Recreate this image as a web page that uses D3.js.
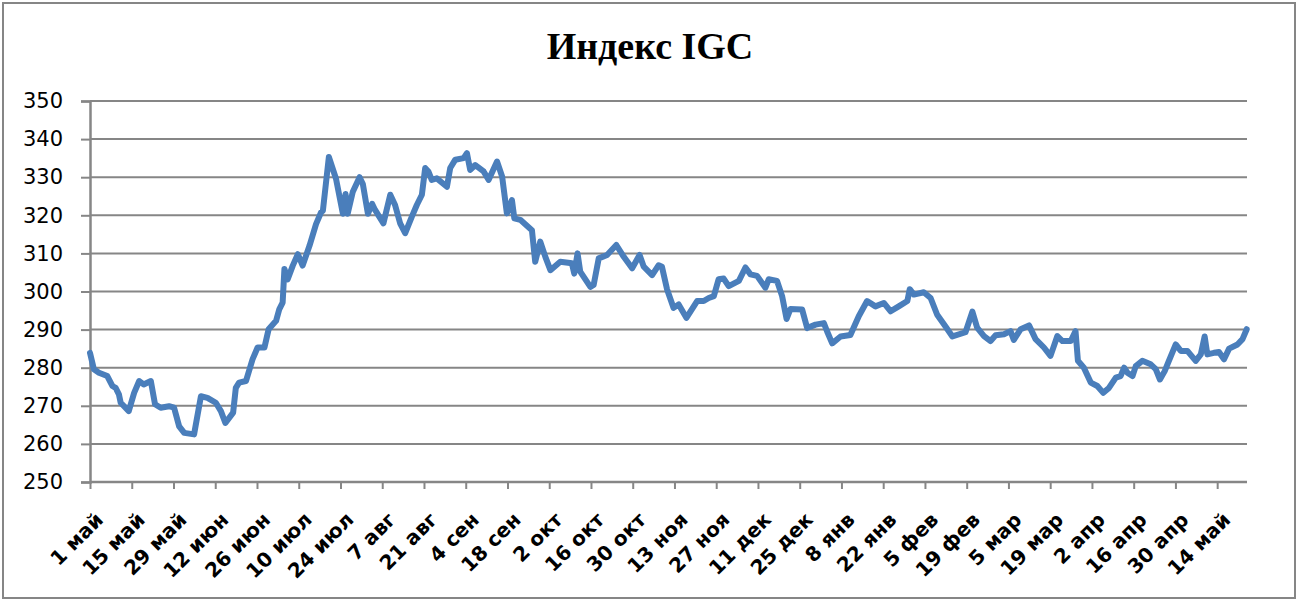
<!DOCTYPE html>
<html><head><meta charset="utf-8">
<script src="https://cdn.jsdelivr.net/npm/d3@7"></script>
<style>body{margin:0;background:#fff}svg{display:block}</style>
</head><body>
<svg id="chart" width="1300" height="606"></svg>
<script>
const chartTitle = "Индекс IGC";
// day offsets from 1 May
const dayOffsets = [0,1.3,3,5.8,7.5,8.6,9.7,10.3,13,14.8,16.5,18,20.4,21.8,23.7,26.5,28.2,29.9,31.6,34.9,37.2,39.4,42.2,43.9,45.4,48,48.9,50,52.3,54.5,56.2,58.5,59.9,62.4,63.5,64.6,65.2,66.3,68,69.7,71.3,73.6,75.8,77.5,78.1,80.1,82.5,84.8,85.7,86.4,88.1,90.4,91.5,93.2,94.6,95.6,98.4,100.7,102.3,104,105.7,107.9,109.6,111.3,112.4,113.5,114.6,116.3,119.7,120.8,122.5,125.3,126.4,127.5,129.2,132,133.7,136.5,138.2,139.8,141.5,142.3,144.3,148.2,149.3,151,152.7,154.4,157.7,161.6,162.4,163.5,164.4,167.8,168.9,170.6,173.4,176.5,179,181.8,184.3,185.7,188.5,190.7,191.8,193.5,195.7,197.4,200,203.6,205.8,207.5,209.2,210.8,212.5,214.2,217.6,219.8,221.5,223.7,226.5,227.6,230.4,232.1,233.6,234.9,238.8,240.5,243.3,246.1,247.2,248.9,251.7,255,257.8,260.6,263.4,266.2,268.5,271.2,274.1,274.9,276.3,279.6,281.9,284.1,286.9,289.2,293.6,295.9,297.5,299.8,302,303.7,306.5,308.7,309.8,312.1,314.9,317.1,319.9,322.1,324.4,326.1,328.9,330.5,331.3,333.3,335.6,337.8,339.8,341.7,344,345.6,346.8,347.9,349.6,350.7,352.9,355.7,357.4,358.8,360.4,361.8,364.1,365.8,368,370.8,372.5,373.8,374.7,376.9,378.6,380.3,382,384.8,386.5,387.9];
const indexValues = [283.9,279.6,278.7,277.8,275.2,274.7,273,270.8,268.6,273.4,276.5,275.6,276.5,270.4,269.5,269.9,269.5,264.6,262.9,262.5,272.5,272.1,270.8,268.6,265.5,268.2,274.7,276.1,276.5,282.2,285.3,285.3,290.1,292.3,295.4,297.1,305.9,303.2,306.8,309.8,306.8,312,317.7,320.8,321.2,335.3,329.6,320.4,325.6,320.4,326.1,330,328.2,320.4,323,321.4,317.9,325.4,322.7,317.9,315.3,319.6,322.7,325.4,332.4,331.5,329.3,329.7,327.5,332.4,334.6,335,336.3,331.9,333.2,331.5,329.3,334.1,330.2,320.5,324,319.2,318.8,316.1,307.8,313.1,309.1,305.6,307.8,307.4,304.7,310,305.2,301.2,301.7,308.7,309.6,312.2,309.1,306.1,309.6,306.5,304.3,306.9,306.5,300.6,295.7,296.6,293.1,297.5,297.5,298.3,298.8,303.2,303.4,301.4,302.8,306.3,304.5,304.1,301,303.2,302.8,298.8,292.8,295.4,295.3,290.4,291.3,291.7,289.5,286.4,288.2,288.6,293.5,297.5,296.1,297,294.8,296.1,297.5,300.6,299.2,299.8,298.3,293.9,290.8,288.2,289.3,294.7,290.5,288.3,287,288.5,288.8,289.6,287.3,290.1,291.1,287.5,285.3,283.1,288.3,287,287,289.6,281.8,280,276.1,275.2,273.4,274.7,277.4,277.8,280,278.7,277.8,280.4,281.8,280.9,279.6,276.9,279.1,281.8,286.1,284.4,284.4,281.8,283.5,288.2,283.5,283.9,284.1,282.2,285,286.1,287.5,290.1];
const tickLabels = ["1 май","15 май","29 май","12 июн","26 июн","10 июл","24 июл","7 авг","21 авг","4 сен","18 сен","2 окт","16 окт","30 окт","13 ноя","27 ноя","11 дек","25 дек","8 янв","22 янв","5 фев","19 фев","5 мар","19 мар","2 апр","16 апр","30 апр","14 май"];
const yTicks = [250,260,270,280,290,300,310,320,330,340,350];

const svg = d3.select("#chart");
const mLeft = 90, mRight = 1247, mTop = 101, mBottom = 482;
const x = d3.scaleLinear().domain([0, 388]).range([mLeft, mRight]);
const y = d3.scaleLinear().domain([250, 350]).range([mBottom, mTop]);
const gray = "#868686";

svg.append("rect").attr("x", 3).attr("y", 3).attr("width", 1292).attr("height", 595)
  .attr("fill", "#fff").attr("stroke", gray).attr("stroke-width", 2);

svg.append("text").attr("x", 650).attr("y", 59).attr("text-anchor", "middle")
  .attr("font-family", "Liberation Serif").attr("font-weight", "bold").attr("font-size", 38)
  .text(chartTitle);

// gridlines
svg.append("g").selectAll("line").data(yTicks).join("line")
  .attr("x1", mLeft).attr("x2", mRight).attr("y1", d => y(d)).attr("y2", d => y(d))
  .attr("stroke", gray).attr("stroke-width", 2);

// y axis
const yAxis = svg.append("g").attr("transform", `translate(${mLeft},0)`)
  .call(d3.axisLeft(y).tickValues(yTicks).tickSize(9).tickPadding(18).tickFormat(d3.format("d")));
yAxis.select(".domain").attr("stroke", gray).attr("stroke-width", 2.5);
yAxis.selectAll(".tick line").attr("stroke", gray).attr("stroke-width", 2);
yAxis.selectAll("text").attr("font-family", "DejaVu Sans").attr("font-size", 21).attr("fill", "#000");

// x axis
const tickVals = tickLabels.map((d, i) => i * 14);
const xAxis = svg.append("g").attr("transform", `translate(0,${mBottom})`)
  .call(d3.axisBottom(x).tickValues(tickVals).tickSize(7).tickFormat((d, i) => tickLabels[i]));
xAxis.select(".domain").attr("stroke", gray).attr("stroke-width", 2.5).attr("d", `M${mLeft},0H${mRight}`);
xAxis.selectAll(".tick line").attr("stroke", gray).attr("stroke-width", 2);
xAxis.selectAll("text")
  .attr("font-family", "DejaVu Sans").attr("font-weight", "bold").attr("font-size", 20).attr("fill", "#000")
  .attr("text-anchor", "end").attr("dy", null).attr("y", 0)
  .attr("transform", "translate(14,39) rotate(-45)");

// line
const pts = dayOffsets.map((d, i) => [d, indexValues[i]]);
svg.append("path").datum(pts)
  .attr("fill", "none").attr("stroke", "#4a7ebb").attr("stroke-width", 6)
  .attr("stroke-linejoin", "round").attr("stroke-linecap", "round")
  .attr("d", d3.line().x(d => x(d[0])).y(d => y(d[1])));
</script>
</body></html>
